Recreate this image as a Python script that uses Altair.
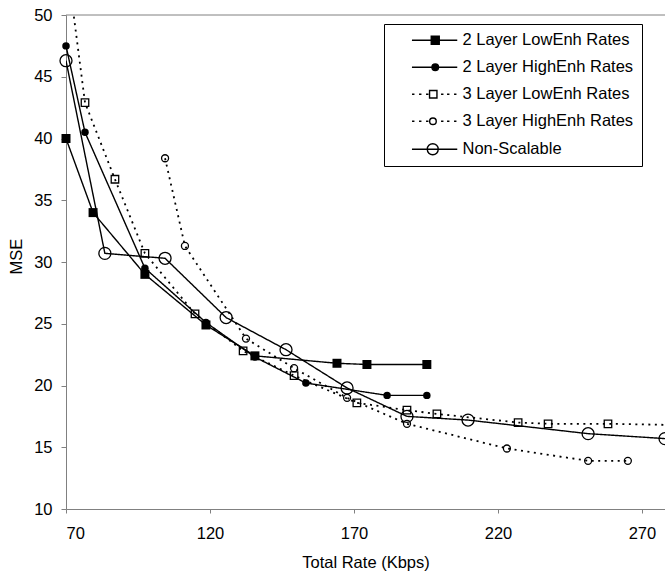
import altair as alt
import pandas as pd

series = ["2 Layer LowEnh Rates", "2 Layer HighEnh Rates", "3 Layer LowEnh Rates",
          "3 Layer HighEnh Rates", "Non-Scalable"]

lx2 = [66.0, 70.0, 79.4, 97.4, 118.6, 135.6, 164.1, 174.5, 195.3]
ly2 = [43.1, 40.0, 34.0, 29.0, 24.9, 22.4, 21.8, 21.7, 21.7]

hx2 = [70.0, 76.6, 97.4, 118.6, 135.6, 153.3, 181.5, 195.3]
hy2 = [47.5, 40.5, 29.5, 25.1, 22.3, 20.2, 19.2, 19.2]

lx3 = [71.0, 76.6, 87.0, 97.4, 114.8, 131.5, 149.2, 171.0, 188.4, 198.8, 227.0, 237.4, 258.2, 282.0]
ly3 = [53.0, 42.9, 36.7, 30.7, 25.8, 22.8, 20.8, 18.6, 18.0, 17.7, 17.0, 16.9, 16.9, 16.8]

hx3 = [104.4, 111.3, 132.5, 149.2, 167.6, 188.4, 223.1, 251.3, 265.1]
hy3 = [38.4, 31.3, 23.8, 21.4, 19.0, 16.9, 14.9, 13.9, 13.9]

nx = [70.0, 83.5, 104.4, 125.6, 146.4, 167.6, 188.4, 209.6, 251.3, 278.0]
ny = [46.3, 30.7, 30.3, 25.5, 22.9, 19.8, 17.5, 17.2, 16.1, 15.7]

x_ticks = [70, 120, 170, 220, 270]
y_ticks = [10, 15, 20, 25, 30, 35, 40, 45, 50]

rows = []
for name, xs, ys in zip(series, [lx2, hx2, lx3, hx3, nx], [ly2, hy2, ly3, hy3, ny]):
    for i, (a, b) in enumerate(zip(xs, ys)):
        rows.append({"series": name, "x": a, "y": b, "order": i})
df = pd.DataFrame(rows)

FONT = "Liberation Sans"
xs_scale = alt.Scale(domain=[70, 278], nice=False, zero=False)
ys_scale = alt.Scale(domain=[10, 50], nice=False, zero=False)

x_enc = alt.X("x:Q", scale=xs_scale,
              axis=alt.Axis(values=x_ticks, title="Total Rate (Kbps)", grid=False,
                            tickSize=4, labelPadding=12, titleY=58,
                            titleBaseline="alphabetic"))
y_enc = alt.Y("y:Q", scale=ys_scale,
              axis=alt.Axis(values=y_ticks, title="MSE", grid=False, tickSize=5,
                            labelPadding=9, titleX=-50, titleY=241, titleAngle=270,
                            titleAlign="center", titleBaseline="middle"))

base = alt.Chart(df)

styles = [
    dict(shape="square", filled=True, size=81, dash=[1, 0], lw=1.4),
    dict(shape="circle", filled=True, size=56, dash=[1, 0], lw=1.4),
    dict(shape="square", filled=False, size=56, dash=[2, 4.5], lw=1.8),
    dict(shape="circle", filled=False, size=49, dash=[2, 4.5], lw=1.8),
    dict(shape="circle", filled=False, size=144, dash=[1, 0], lw=1.4),
]

line_layers = []
point_layers = []
for name, st in zip(series, styles):
    line_layers.append(
        base.transform_filter(alt.datum.series == name).mark_line(
            color="black", clip=True, strokeDash=st["dash"], strokeWidth=st["lw"]
        ).encode(x=x_enc, y=y_enc, order="order:Q")
    )
    point_layers.append(
        base.transform_filter(
            (alt.datum.series == name) & (alt.datum.x >= 70) & (alt.datum.x <= 278) & (alt.datum.y <= 50)
        ).mark_point(shape=st["shape"], filled=st["filled"], size=st["size"],
                     color="black", opacity=1, strokeWidth=1.3).encode(x=x_enc, y=y_enc)
    )

# legend symbols: line + marker drawn as custom paths
solid = "M2.34,0H11.4"
dots = "M2.36,0H2.84M3.76,0H4.24M5.16,0H5.64M8.16,0H8.64M9.36,0H9.84M10.76,0H11.24"
paths = [
    solid + "M6.2,-0.8H7.8V0.8H6.2Z",
    solid + "M6.34,0A0.66,0.66 0 1,1 7.66,0A0.66,0.66 0 1,1 6.34,0Z",
    dots + "M5.86,-0.74H7.34V0.74H5.86Z",
    dots + "M5.88,0A0.66,0.66 0 1,1 7.2,0A0.66,0.66 0 1,1 5.88,0Z",
    solid + "M5.4,0A1.1,1.1 0 1,1 7.6,0A1.1,1.1 0 1,1 5.4,0Z",
]
fills = ["black", "black", "white", "white", "white"]
strokes = ["black"] * 5

leg = alt.Legend(orient="none", legendX=318, legendY=9, title=None, padding=8,
                 strokeColor="black", fillColor="white", symbolSize=100,
                 symbolStrokeWidth=1.4, symbolOpacity=1,
                 labelFontSize=16.5, labelFont=FONT, labelColor="black", labelOffset=54,
                 rowPadding=10, labelLimit=500,
                 labelExpr="datum.label + '\u2003\u2003'")

legend_layer = base.mark_point(opacity=0).encode(
    x=x_enc, y=y_enc,
    shape=alt.Shape("series:N", scale=alt.Scale(domain=series, range=paths), legend=leg),
    fill=alt.Fill("series:N", scale=alt.Scale(domain=series, range=fills), legend=leg),
    stroke=alt.Stroke("series:N", scale=alt.Scale(domain=series, range=strokes), legend=leg),
)

top_border = alt.Chart(pd.DataFrame({"v": [50]})).mark_rule(color="#808080", strokeWidth=1).encode(
    y=alt.Y("v:Q", scale=ys_scale)
)

chart = alt.layer(top_border, *line_layers, *point_layers, legend_layer).properties(
    width=599, height=494,
    background="white",
    autosize=alt.AutoSizeParams(type="none"),
    padding={"left": 66, "top": 15, "right": 0, "bottom": 65},
).configure_view(strokeWidth=0).configure_axis(
    labelFont=FONT, titleFont=FONT, labelFontSize=16.5, titleFontSize=16.5,
    labelColor="black", titleColor="black", titleFontWeight="normal",
    domainColor="#808080", tickColor="#808080", domainWidth=1,
)

chart.save("out.html", embed_options={"renderer": "svg", "actions": False})
